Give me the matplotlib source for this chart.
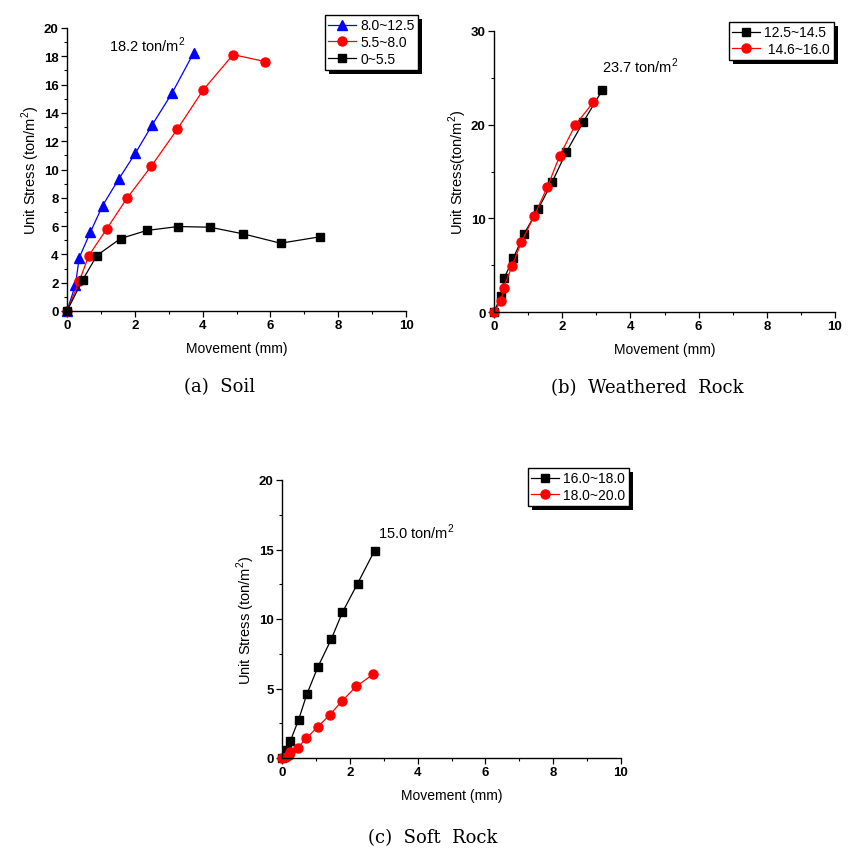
import matplotlib
matplotlib.use("Agg")
import matplotlib.pyplot as plt
from matplotlib.ticker import MultipleLocator
from matplotlib.patches import Rectangle

SANS = ['Liberation Sans', 'DejaVu Sans']
SERIF = ['DejaVu Serif']
plt.rcParams['font.family'] = SANS
plt.rcParams['mathtext.fontset'] = 'custom'
plt.rcParams['mathtext.rm'] = 'Liberation Sans'

# ---- Data: (a) Soil ----
a_labels = ["8.0~12.5", "5.5~8.0", "0~5.5"]
a1_x = [0, 0.25, 0.36, 0.69, 1.05, 1.52, 2.02, 2.52, 3.10, 3.74]
a1_y = [0, 1.86, 3.76, 5.57, 7.45, 9.30, 11.16, 13.18, 15.40, 18.26]
a2_x = [0, 0.36, 0.64, 1.17, 1.77, 2.49, 3.25, 4.02, 4.90, 5.84]
a2_y = [0, 2.09, 3.90, 5.80, 7.97, 10.25, 12.83, 15.63, 18.12, 17.63]
a3_x = [0, 0.46, 0.88, 1.58, 2.35, 3.28, 4.22, 5.20, 6.30, 7.45]
a3_y = [0, 2.19, 3.92, 5.12, 5.69, 5.97, 5.92, 5.45, 4.79, 5.24]

# ---- Data: (b) Weathered Rock ----
b_labels = ["12.5~14.5", " 14.6~16.0"]
b1_x = [0, 0.20, 0.30, 0.57, 0.88, 1.29, 1.71, 2.12, 2.62, 3.18]
b1_y = [0, 1.67, 3.63, 5.77, 8.33, 10.96, 13.90, 17.08, 20.30, 23.70]
b2_x = [0, 0.21, 0.28, 0.53, 0.80, 1.17, 1.56, 1.93, 2.39, 2.91]
b2_y = [0, 1.17, 2.60, 4.90, 7.44, 10.20, 13.30, 16.70, 20.00, 22.38]

# ---- Data: (c) Soft Rock ----
c_labels = ["16.0~18.0", "18.0~20.0"]
c1_x = [0, 0.16, 0.25, 0.49, 0.73, 1.06, 1.45, 1.78, 2.23, 2.73]
c1_y = [0, 0.57, 1.25, 2.75, 4.57, 6.56, 8.53, 10.47, 12.55, 14.92]
c2_x = [0, 0.12, 0.20, 0.24, 0.47, 0.71, 1.06, 1.41, 1.76, 2.19, 2.68]
c2_y = [0, 0.10, 0.19, 0.41, 0.74, 1.41, 2.25, 3.11, 4.07, 5.15, 6.01]

captions = ["(a)  Soil", "(b)  Weathered  Rock", "(c)  Soft  Rock"]

W, H = 859, 854
fig = plt.figure(figsize=(W / 100, H / 100), dpi=100)


def make_ax(l, r, t, b):
    return fig.add_axes([l / W, 1 - b / H, (r - l) / W, (b - t) / H])


def style(ax, ymax, ymaj, ymin, ylabel):
    ax.set_xlim(0, 10)
    ax.set_ylim(0, ymax)
    ax.xaxis.set_major_locator(MultipleLocator(2))
    ax.xaxis.set_minor_locator(MultipleLocator(1))
    ax.yaxis.set_major_locator(MultipleLocator(ymaj))
    ax.yaxis.set_minor_locator(MultipleLocator(ymin))
    for s in ['top', 'right']:
        ax.spines[s].set_visible(False)
    for s in ['left', 'bottom']:
        ax.spines[s].set_linewidth(1.0)
    ax.tick_params(which='major', direction='out', length=4, width=0.9, labelsize=9.5, pad=2)
    ax.tick_params(which='minor', direction='out', length=2.5, width=0.8)
    for lab in ax.get_xticklabels() + ax.get_yticklabels():
        lab.set_fontweight('bold')
    ax.set_xlabel("Movement (mm)", fontsize=10, labelpad=7)
    ax.set_ylabel(ylabel, fontsize=10.5, labelpad=1.5)
    ax.patch.set_visible(False)


legends = []


def legend(ax, x0, y0):
    lg = ax.legend(loc='upper left', bbox_to_anchor=(x0 / W, 1 - y0 / H),
                   bbox_transform=fig.transFigure, fontsize=10, frameon=True,
                   fancybox=False, shadow=False, framealpha=1,
                   handlelength=2.0, handletextpad=0.3, borderpad=0.25,
                   labelspacing=0.2, borderaxespad=0)
    fr = lg.get_frame()
    fr.set_edgecolor('black')
    fr.set_linewidth(1.0)
    legends.append((ax, lg))
    return lg


kw = dict(lw=0.9, clip_on=False)

# (a)
ax = make_ax(67, 406, 29, 312)
ax.plot(a1_x, a1_y, color='blue', marker='^', ms=7, label=a_labels[0], **kw)
ax.plot(a2_x, a2_y, color='red', marker='o', ms=6.5, label=a_labels[1], **kw)
ax.plot(a3_x, a3_y, color='black', marker='s', ms=5.5, label=a_labels[2], **kw)
style(ax, 20, 2, 1, "Unit Stress (ton/m$^2$)")
ax.text(2.36, 18.85, "18.2 ton/m$^2$", fontsize=10.5, ha='center', va='center')
legend(ax, 325, 16)
fig.text(220 / W, 1 - 387 / H, captions[0], family=SERIF, fontsize=13, ha='center', va='center')

# (b)
ax = make_ax(494, 835, 32, 313)
ax.plot(b1_x, b1_y, color='black', marker='s', ms=5.5, label=b_labels[0], **kw)
ax.plot(b2_x, b2_y, color='red', marker='o', ms=6.5, label=b_labels[1], **kw)
style(ax, 30, 10, 5, "Unit Stress(ton/m$^2$)")
ax.text(4.3, 26.3, "23.7 ton/m$^2$", fontsize=10.5, ha='center', va='center')
legend(ax, 729, 23)
fig.text(647 / W, 1 - 388 / H, captions[1], family=SERIF, fontsize=13, ha='center', va='center')

# (c)
ax = make_ax(282, 621, 481, 759)
ax.plot(c1_x, c1_y, color='black', marker='s', ms=5.5, label=c_labels[0], **kw)
ax.plot(c2_x, c2_y, color='red', marker='o', ms=6.5, label=c_labels[1], **kw)
style(ax, 20, 5, 2.5, "Unit Stress (ton/m$^2$)")
ax.text(3.97, 16.3, "15.0 ton/m$^2$", fontsize=10.5, ha='center', va='center')
legend(ax, 528, 469)
fig.text(433 / W, 1 - 838 / H, captions[2], family=SERIF, fontsize=13, ha='center', va='center')

# solid black drop shadows behind the legends
fig.canvas.draw()
for ax, lg in legends:
    bb = lg.get_frame().get_window_extent(fig.canvas.get_renderer())
    sh = Rectangle((bb.x0 + 4, bb.y0 - 4), bb.width, bb.height, transform=None,
                   facecolor='black', edgecolor='none', zorder=4.9, clip_on=False)
    ax.add_artist(sh)

fig.savefig("out.png", dpi=100)
